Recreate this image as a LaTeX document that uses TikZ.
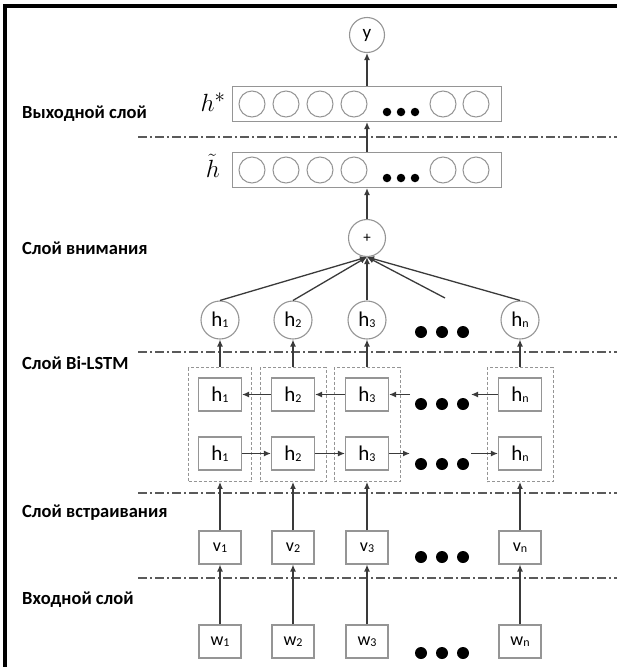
\documentclass[tikz,border=0pt]{standalone}
\usepackage{fontspec}
\setmainfont{Carlito}
\usetikzlibrary{arrows.meta}
\definecolor{boxgray}{HTML}{959595}
\definecolor{arrowgray}{HTML}{3A3A3A}
\definecolor{sepgray}{HTML}{5A5A5A}
% letter with a small index set close to the baseline
\newcommand\idx[3]{{\fontsize{#3}{#3}\selectfont #1}{\fontsize{12}{12}\selectfont\raisebox{-1pt}{#2}}}
\begin{document}
\begin{tikzpicture}[x=1pt,y=-1pt,
  cell/.style={draw=boxgray, line width=1.1pt, minimum width=44pt, minimum height=33pt, inner sep=0pt, fill=white},
  unit/.style={draw=boxgray, line width=1.1pt, circle, minimum size=38pt, inner sep=0pt, fill=white},
  neuron/.style={draw=boxgray, line width=1pt, circle, minimum size=26pt, inner sep=0pt},
  vecbox/.style={draw=boxgray, line width=1.1pt, minimum width=269pt, minimum height=35pt, inner sep=0pt},
  wrap/.style={draw=boxgray, line width=0.9pt, dash pattern=on 3pt off 2pt, minimum height=114pt, inner sep=0pt},
  bigdot/.style={circle, fill=black, minimum size=12pt, inner sep=0pt},
  smalldot/.style={circle, fill=black, minimum size=8.5pt, inner sep=0pt},
  flow/.style={draw=arrowgray, line width=1.3pt, -{Latex[length=7pt,width=6pt]}},
  sep/.style={draw=sepgray, line width=1.1pt, dash pattern=on 9pt off 3pt on 2pt off 3pt},
  layer/.style={anchor=west, inner sep=0pt, font=\bfseries\fontsize{18.5}{20}\selectfont},
  veclabel/.style={inner sep=0pt, font=\fontsize{29}{30}\selectfont}]
\useasboundingbox (0,0) rectangle (617,667);

% frame
\draw[line width=3.5pt] (5,667) -- (5,6) -- (617,6);

% layer separators
\foreach \yy in {137,352,493,578}
  \draw[sep] (138,\yy) -- (617,\yy);

% layer names
\node[layer] (lOut) at (22,114) {Выходной слой};
\node[layer] (lAtt) at (22,248) {Слой внимания};
\node[layer] (lBi)  at (22,363) {Слой Bi-LSTM};
\node[layer] (lEmb) at (22,513) {Слой встраивания};
\node[layer] (lIn)  at (22,600) {Входной слой};

% output
\node[unit, minimum size=35pt] (y) at (367,35) {\fontsize{19}{19}\selectfont y};
\node[vecbox] (hstar) at (367,104) {};
\node[veclabel] (hstarl) at (213,102) {$h^{*}$};
\foreach \cx [count=\i] in {252,286,320,354,443,476}
  \node[neuron] (hs\i) at (\cx,104) {};
\foreach \cx [count=\i] in {387,401,415}
  \node[smalldot] (hsd\i) at (\cx,112) {};

\node[vecbox] (htil) at (367,170) {};
\node[veclabel] (htill) at (213,166) {$\tilde{h}$};
\foreach \cx [count=\i] in {252,286,320,354,443,476}
  \node[neuron] (ht\i) at (\cx,170) {};
\foreach \cx [count=\i] in {387,401,415}
  \node[smalldot] (htd\i) at (\cx,178) {};

% attention
\node[unit, minimum size=37pt] (plus) at (367,238) {\fontsize{15}{15}\selectfont +};
\foreach \cx/\s [count=\i] in {220/1,293/2,367/3,520/n}
  \node[unit] (o\i) at (\cx,320) {\idx{h}{\s}{21}};
\foreach \cx [count=\i] in {421,442,463}
  \node[bigdot] (od\i) at (\cx,332) {};
\coordinate (attd) at (445,298);

% Bi-LSTM
\foreach \cx/\s/\cw [count=\i] in {220/1/63,293/2/66,367/3/66,520/n/66}{
  \node[wrap, minimum width=\cw pt] (c\i) at (\cx,424.5) {};
  \node[cell, minimum width=43pt] (b\i) at (\cx,394.5) {\idx{h}{\s}{21}};
  \node[cell, minimum width=43pt] (f\i) at (\cx,453.5) {\idx{h}{\s}{21}};
}
\foreach \cx [count=\i] in {421,442,463}{
  \node[bigdot] (bd\i) at (\cx,404) {};
  \node[bigdot] (fd\i) at (\cx,464) {};
}
\coordinate (bl) at (410,394.5);
\coordinate (br) at (471,394.5);
\coordinate (fl) at (410,453.5);
\coordinate (fr) at (471,453.5);

% embedding and input
\foreach \cx/\s [count=\i] in {220/1,293/2,367/3,520/n}{
  \node[cell, minimum width=42pt] (v\i) at (\cx,547.5) {\idx{v}{\s}{18}};
  \node[cell, minimum width=42pt] (w\i) at (\cx,641.5) {\idx{w}{\s}{18}};
}
\foreach \cx [count=\i] in {421,442,463}{
  \node[bigdot] (vd\i) at (\cx,557) {};
  \node[bigdot] (wd\i) at (\cx,653) {};
}

% connectors
\draw[flow] (hstar.north -| y.south) -- (y.south);
\draw[flow] (htil.north) -- (hstar.south);
\draw[flow] (plus.north) -- (htil.south);
\foreach \i in {1,2,3,4}
  \draw[flow] (o\i.north) -- (plus.south);
\draw[flow] (attd) -- (plus.south);
\foreach \i in {1,2,3,4}{
  \draw[flow] (c\i.north) -- (o\i.south);
  \draw[flow] (v\i.north) -- (c\i.south);
  \draw[flow] (w\i.north) -- (v\i.south);
}
\draw[flow] (b2.west) -- (b1.east);
\draw[flow] (b3.west) -- (b2.east);
\draw[flow] (bl) -- (b3.east);
\draw[flow] (b4.west) -- (br);
\draw[flow] (f1.east) -- (f2.west);
\draw[flow] (f2.east) -- (f3.west);
\draw[flow] (f3.east) -- (fl);
\draw[flow] (fr) -- (f4.west);
\end{tikzpicture}
\end{document}
